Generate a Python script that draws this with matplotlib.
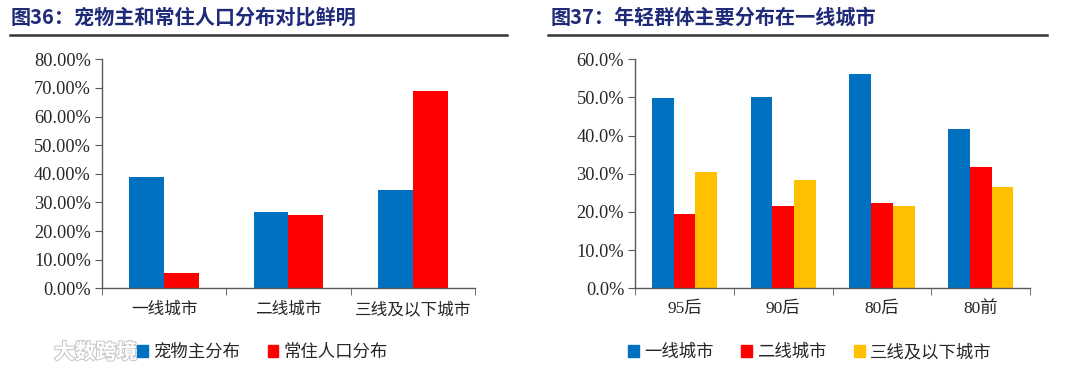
import matplotlib
matplotlib.use("Agg")
import matplotlib.pyplot as plt
import matplotlib.patheffects as pe
from matplotlib.lines import Line2D
from matplotlib.patches import Patch
from matplotlib.ticker import FuncFormatter, FixedLocator
import numpy as np

plt.rcParams['font.family'] = ['Liberation Serif', 'Noto Sans CJK SC', 'DejaVu Sans']

# chart 36
cities = ["一线城市", "二线城市", "三线及以下城市"]
pet_owner = [38.8, 26.8, 34.4]
resident = [5.4, 25.6, 69.1]
left_series = ["宠物主分布", "常住人口分布"]

# chart 37
ages = ["95后", "90后", "80后", "80前"]
tier1 = [49.8, 50.0, 56.1, 41.7]
tier2 = [19.4, 21.6, 22.4, 31.8]
tier3 = [30.6, 28.4, 21.6, 26.6]
right_series = ["一线城市", "二线城市", "三线及以下城市"]

BLUE = "#0070C0"
RED = "#FF0000"
YELLOW = "#FFC000"
TITLE = "#1F2A78"
AXIS = "#595959"
TEXT = "#262626"
CJK = ['Noto Sans CJK SC', 'DejaVu Sans']

fig = plt.figure(figsize=(10.8, 3.75), dpi=100)
ax1 = fig.add_axes([0.0944, 0.2312, 0.3454, 0.6106])
ax2 = fig.add_axes([0.5882, 0.2312, 0.3655, 0.6106])


def style_axis(ax, n, ymax, step, decimals):
    ax.set_xlim(-0.5, n - 0.5)
    ax.set_ylim(0, ymax)
    for s in ["top", "right"]:
        ax.spines[s].set_visible(False)
    for s in ["left", "bottom"]:
        ax.spines[s].set_color(AXIS)
        ax.spines[s].set_linewidth(1.0)
    ax.set_yticks(np.arange(0, ymax + 0.01, step))
    ax.yaxis.set_major_formatter(FuncFormatter(lambda v, p: f"{v:.{decimals}f}%"))
    ax.tick_params(axis="y", direction="out", length=5, color=AXIS, labelsize=13.2,
                   labelcolor=TEXT, pad=3)
    ax.set_xticks(range(n))
    ax.tick_params(axis="x", which="major", length=0, pad=9, labelsize=12, labelcolor=TEXT)
    ax.xaxis.set_minor_locator(FixedLocator(np.arange(-0.5, n, 1.0)))
    ax.tick_params(axis="x", which="minor", direction="out", length=5, color=AXIS)


# left chart
x = np.arange(len(cities))
w = 0.28
ax1.bar(x - w / 2, pet_owner, w, color=BLUE, label=left_series[0])
ax1.bar(x + w / 2, resident, w, color=RED, label=left_series[1])
style_axis(ax1, len(cities), 80, 10, 2)
ax1.set_xticklabels(cities, family=CJK)

# right chart
x2 = np.arange(len(ages))
w2 = 0.22
ax2.bar(x2 - w2, tier1, w2, color=BLUE)
ax2.bar(x2, tier2, w2, color=RED)
ax2.bar(x2 + w2, tier3, w2, color=YELLOW)
style_axis(ax2, len(ages), 60, 10, 1)
ax2.set_xticklabels(ages, fontsize=12.5)

# titles and rules
fig.text(0.010, 0.955, "图36：宠物主和常住人口分布对比鲜明", family=CJK, fontsize=14.5,
         fontweight="bold", color=TITLE, va="center", ha="left")
fig.text(0.510, 0.955, "图37：年轻群体主要分布在一线城市", family=CJK, fontsize=14.5,
         fontweight="bold", color=TITLE, va="center", ha="left")
fig.add_artist(Line2D([0.009, 0.469], [0.907, 0.907], color="#333333", lw=1.8))
fig.add_artist(Line2D([0.507, 0.969], [0.907, 0.907], color="#333333", lw=1.8))

# legends
h1 = [Patch(color=BLUE), Patch(color=RED)]
fig.legend(h1, left_series, loc="center", bbox_to_anchor=(0.243, 0.061), ncol=2,
           frameon=False, prop={"family": CJK, "size": 12.5}, handlelength=0.6,
           handleheight=0.6, handletextpad=0.3, columnspacing=1.6, labelcolor=TEXT)
h2 = [Patch(color=BLUE), Patch(color=RED), Patch(color=YELLOW)]
fig.legend(h2, right_series, loc="center", bbox_to_anchor=(0.750, 0.061), ncol=3,
           frameon=False, prop={"family": CJK, "size": 12.5}, handlelength=0.6,
           handleheight=0.6, handletextpad=0.3, columnspacing=1.6, labelcolor=TEXT)

# watermark
fig.text(0.050, 0.061, "大数跨境", family=CJK, fontsize=15, fontweight="bold",
         color="white", va="center", ha="left",
         path_effects=[pe.withStroke(linewidth=1.5, foreground="#c8c8c8")])

fig.savefig("out.png", dpi=100)
